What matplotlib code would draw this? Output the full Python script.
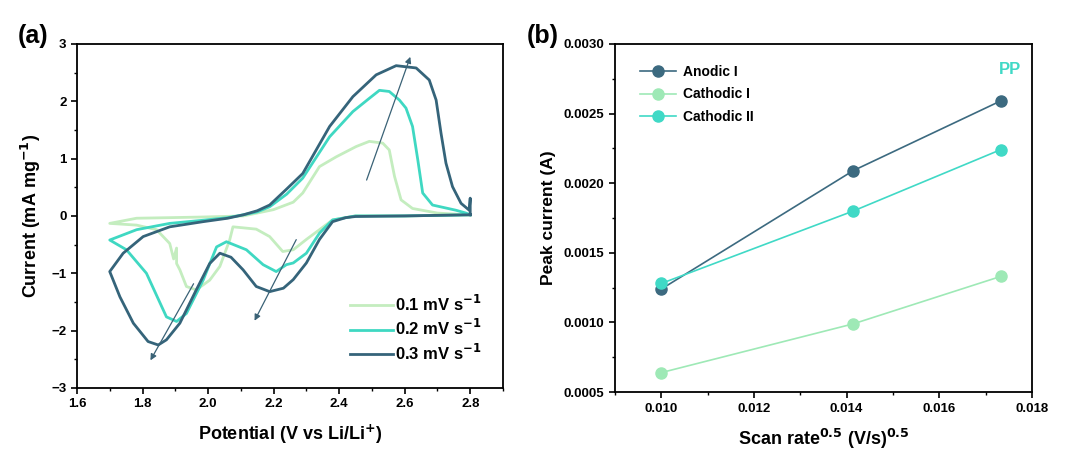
import numpy as np
import matplotlib.pyplot as plt
from matplotlib.ticker import MultipleLocator

plt.rcParams['font.family'] = ['Liberation Sans', 'DejaVu Sans']
plt.rcParams['font.weight'] = 'bold'
plt.rcParams['mathtext.default'] = 'bf'

# ---- (a) CV loops: potential (V) and current (mA/mg), traced as closed loops
# 0.3 mV/s
v3 = [2.80, 2.60, 2.45, 2.42, 2.38, 2.34, 2.30, 2.26, 2.23, 2.188, 2.147, 2.107, 2.07, 2.036,
      2.005, 1.964, 1.914, 1.873, 1.848, 1.817, 1.772, 1.731, 1.70,
      1.741, 1.802, 1.883, 1.985, 2.06, 2.108, 2.15, 2.188, 2.24, 2.289, 2.33, 2.371, 2.442,
      2.513, 2.574, 2.635, 2.675, 2.696, 2.711, 2.726, 2.746, 2.772, 2.797, 2.80, 2.80]
i3 = [0.02, 0.0, -0.01, -0.03, -0.10, -0.41, -0.82, -1.11, -1.26, -1.32, -1.23, -0.94, -0.72, -0.65,
      -0.83, -1.29, -1.87, -2.16, -2.25, -2.19, -1.87, -1.41, -0.97,
      -0.65, -0.36, -0.19, -0.10, -0.04, 0.02, 0.09, 0.19, 0.47, 0.74, 1.15, 1.56, 2.08,
      2.46, 2.62, 2.58, 2.37, 2.02, 1.44, 0.92, 0.51, 0.22, 0.10, 0.31, 0.02]
# 0.2 mV/s
v2 = [2.80, 2.60, 2.45, 2.38, 2.34, 2.30, 2.26, 2.239, 2.208, 2.168, 2.117, 2.056, 2.026,
      1.985, 1.934, 1.904, 1.873, 1.812, 1.751, 1.70,
      1.782, 1.883, 1.976, 2.06, 2.108, 2.15, 2.188, 2.24, 2.289, 2.33, 2.371, 2.442, 2.492, 2.523,
      2.553, 2.584, 2.604, 2.624, 2.64, 2.655, 2.685, 2.756, 2.787, 2.80]
i2 = [0.02, 0.0, 0.0, -0.07, -0.30, -0.65, -0.82, -0.85, -0.97, -0.85, -0.59, -0.45, -0.54,
      -1.12, -1.70, -1.84, -1.76, -1.00, -0.59, -0.42,
      -0.24, -0.13, -0.08, -0.03, 0.02, 0.07, 0.16, 0.38, 0.66, 1.02, 1.38, 1.82, 2.05, 2.19,
      2.17, 2.02, 1.88, 1.56, 0.98, 0.40, 0.19, 0.10, 0.05, 0.02]
# 0.1 mV/s
v1 = [2.80, 2.60, 2.45, 2.38, 2.34, 2.30, 2.26, 2.228, 2.188, 2.147, 2.076, 2.066,
      2.036, 2.005, 1.964, 1.934, 1.914, 1.904, 1.904, 1.895, 1.883, 1.843, 1.782, 1.70,
      1.782, 1.883, 1.976, 2.108, 2.20, 2.26, 2.289, 2.34, 2.391, 2.452, 2.492, 2.533,
      2.553, 2.569, 2.589, 2.624, 2.70, 2.788, 2.80]
i1 = [0.02, 0.0, 0.0, -0.07, -0.24, -0.41, -0.59, -0.62, -0.36, -0.23, -0.19, -0.42,
      -0.88, -1.12, -1.29, -1.23, -0.94, -0.83, -0.56, -0.75, -0.48, -0.24, -0.16, -0.13,
      -0.04, -0.03, -0.02, 0.0, 0.11, 0.24, 0.40, 0.86, 1.03, 1.21, 1.30, 1.27,
      1.15, 0.69, 0.28, 0.13, 0.05, 0.02, 0.02]

cv_labels = ['0.1 mV s$^{-1}$', '0.2 mV s$^{-1}$', '0.3 mV s$^{-1}$']
cv_colors = ['#c4edbf', '#3fd8c2', '#35647a']

# ---- (b) peak current vs square root of scan rate
sqrt_rate = [0.01, 0.014142, 0.017321]
anodic_1 = [0.00124, 0.00209, 0.00259]
cathodic_1 = [0.00064, 0.00099, 0.00133]
cathodic_2 = [0.00128, 0.00180, 0.00224]
peak_labels = ['Anodic I', 'Cathodic I', 'Cathodic II']
peak_colors = ['#3c6a80', '#9ee9b6', '#40d9c6']

fig = plt.figure(figsize=(10.72, 4.57), dpi=100)
ax1 = fig.add_axes([0.0718, 0.151, 0.3974, 0.753])
ax2 = fig.add_axes([0.5737, 0.142, 0.389, 0.762])


def style_axes(ax):
    for sp in ax.spines.values():
        sp.set_linewidth(1.3)
    ax.tick_params(which='major', direction='out', length=4, width=1.2,
                   labelsize=9.5, top=False, right=False)
    ax.tick_params(which='minor', direction='out', length=2.5, width=1.0,
                   top=False, right=False)
    for lbl in ax.get_xticklabels() + ax.get_yticklabels():
        lbl.set_fontweight('bold')


# panel (a)
for v, i, c, lab in zip([v1, v2, v3], [i1, i2, i3], cv_colors, cv_labels):
    ax1.plot(v, i, color=c, lw=2.0, label=lab, solid_joinstyle='round')

arrow_kw = dict(arrowstyle='-|>', color='#3a6276', lw=0.9, mutation_scale=9)
ax1.annotate('', xy=(2.62, 2.82), xytext=(2.481, 0.58), arrowprops=arrow_kw)
ax1.annotate('', xy=(2.138, -1.87), xytext=(2.273, -0.37), arrowprops=arrow_kw)
ax1.annotate('', xy=(1.82, -2.56), xytext=(1.96, -1.14), arrowprops=arrow_kw)

ax1.set_xlim(1.6, 2.9)
ax1.set_ylim(-3, 3)
ax1.xaxis.set_minor_locator(MultipleLocator(0.1))
ax1.yaxis.set_major_locator(MultipleLocator(1))
ax1.yaxis.set_minor_locator(MultipleLocator(0.5))
ax1.set_xticks([1.6, 1.8, 2.0, 2.2, 2.4, 2.6, 2.8])
ax1.set_xticklabels(['1.6', '1.8', '2.0', '2.2', '2.4', '2.6', '2.8'])
ax1.set_xlabel('Potential (V vs Li/Li$^{+}$)', fontsize=13, fontweight='bold', labelpad=9)
ax1.set_ylabel('Current (mA mg$^{-1}$)', fontsize=13, fontweight='bold', labelpad=6)
style_axes(ax1)
ax1.legend(loc='lower right', bbox_to_anchor=(0.985, 0.03), frameon=False,
           prop={'size': 12, 'weight': 'bold'}, handlelength=2.6,
           handletextpad=0.1, labelspacing=0.25)
fig.text(0.017, 0.905, '(a)', fontsize=18, fontweight='bold')

# panel (b)
for y, c, lab in zip([anodic_1, cathodic_1, cathodic_2], peak_colors, peak_labels):
    ax2.plot(sqrt_rate, y, color=c, lw=1.2, marker='o', ms=8, label=lab)

ax2.set_xlim(0.009, 0.018)
ax2.set_ylim(0.0005, 0.0030)
ax2.xaxis.set_minor_locator(MultipleLocator(0.001))
ax2.yaxis.set_minor_locator(MultipleLocator(0.00025))
ax2.set_xticks([0.010, 0.012, 0.014, 0.016, 0.018])
ax2.set_xticklabels(['0.010', '0.012', '0.014', '0.016', '0.018'])
ax2.set_yticks([0.0005, 0.0010, 0.0015, 0.0020, 0.0025, 0.0030])
ax2.set_yticklabels(['0.0005', '0.0010', '0.0015', '0.0020', '0.0025', '0.0030'])
ax2.set_xlabel('Scan rate$^{0.5}$ (V/s)$^{0.5}$', fontsize=13, fontweight='bold', labelpad=9)
ax2.set_ylabel('Peak current (A)', fontsize=12.5, fontweight='bold', labelpad=6)
style_axes(ax2)
ax2.legend(loc='upper left', bbox_to_anchor=(0.03, 0.975), frameon=False,
           prop={'size': 10, 'weight': 'bold'}, handlelength=2.6,
           handletextpad=0.5, labelspacing=0.6)
ax2.text(0.975, 0.925, 'PP', transform=ax2.transAxes, color='#40d9c6',
         fontsize=12, fontweight='bold', ha='right', va='center')
fig.text(0.491, 0.905, '(b)', fontsize=18, fontweight='bold')

fig.savefig('out.png', dpi=100)
